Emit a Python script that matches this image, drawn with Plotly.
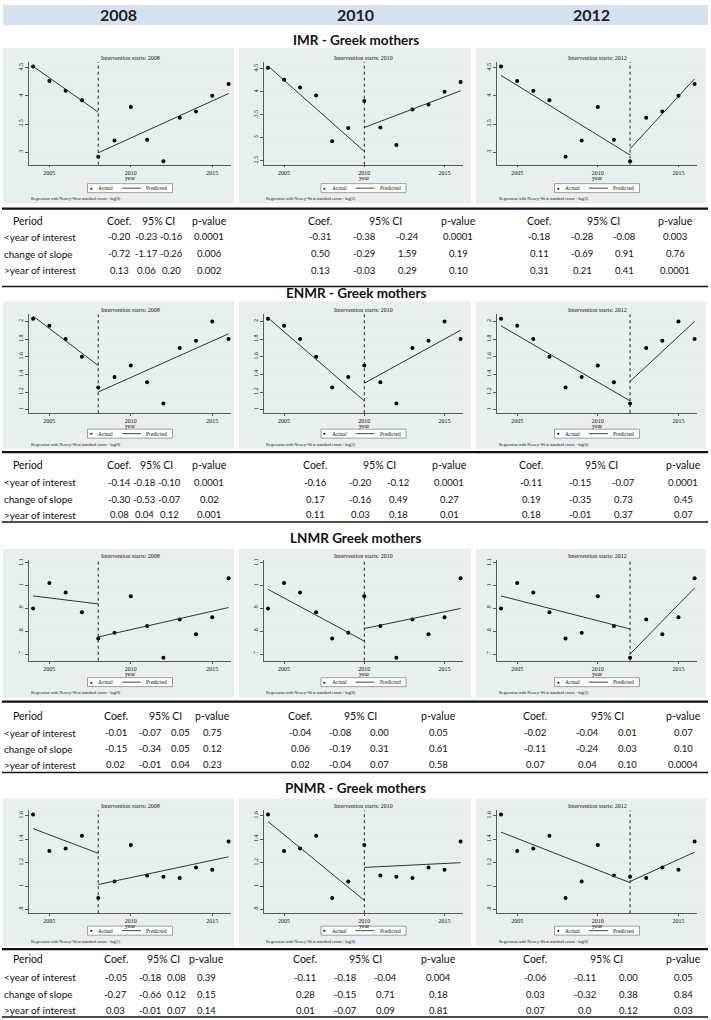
import plotly.graph_objects as go

W, H = 711, 1020
def fx(x): return x / W
def fy(y): return 1 - y / H

# ---------------- data ----------------
years = list(range(2004, 2017))
interventions = [2008, 2010, 2012]
col_headers = ["2008", "2010", "2012"]
section_titles = ["IMR - Greek mothers", "ENMR - Greek mothers", "LNMR Greek mothers", "PNMR - Greek mothers"]

imr_actual = [4.52, 4.26, 4.09, 3.92, 2.92, 3.21, 3.80, 3.22, 2.84, 3.61, 3.72, 4.00, 4.21]
enmr_actual = [2.03, 1.95, 1.80, 1.60, 1.25, 1.37, 1.50, 1.31, 1.07, 1.70, 1.78, 2.00, 1.80]
lnmr_actual = [0.900, 1.012, 0.970, 0.884, 0.768, 0.794, 0.954, 0.823, 0.684, 0.852, 0.787, 0.862, 1.033]
pnmr_actual = [1.61, 1.30, 1.32, 1.43, 0.90, 1.04, 1.35, 1.09, 1.08, 1.07, 1.16, 1.14, 1.38]

# predicted segments: [pre start, pre end (at intervention), post start (at intervention), post end]
imr_pred = [[4.52, 3.71, 2.99, 4.04], [4.56, 2.70, 3.22, 4.02], [4.36, 2.95, 3.06, 4.30]]
enmr_pred = [[2.06, 1.50, 1.20, 1.86], [2.04, 1.10, 1.30, 1.90], [1.95, 1.10, 1.32, 2.00]]
lnmr_pred = [[0.955, 0.920, 0.775, 0.904], [0.984, 0.757, 0.812, 0.900], [0.955, 0.810, 0.700, 0.990]]
pnmr_pred = [[1.49, 1.28, 1.014, 1.25], [1.55, 0.88, 1.16, 1.20], [1.46, 1.03, 1.04, 1.29]]

imr_ticks = [3, 3.5, 4, 4.5]
imr_ticks_2010 = [2.5, 3, 3.5, 4, 4.5]
enmr_ticks = [1, 1.2, 1.4, 1.6, 1.8, 2]
lnmr_ticks = [0.7, 0.8, 0.9, 1.0, 1.1]
pnmr_ticks = [0.8, 1.0, 1.2, 1.4, 1.6]

def stata_lbl(v):
    s = ("%g" % v)
    return s[1:] if s.startswith("0.") else s

imr_lags = ["lag(0)", "lag(2)", "lag(2)"]
enmr_lags = ["lag(0)", "lag(2)", "lag(0)"]
lnmr_lags = ["lag(0)", "lag(0)", "lag(2)"]
pnmr_lags = ["lag(1)", "lag(0)", "lag(0)"]

row_labels = ["&lt;year of interest", "change of slope", "&gt;year of interest"]
table_headers = ["Coef.", "95% CI", "p-value"]

imr_table = [
    [["-0.20", "-0.23", "-0.16", "0.0001"], ["-0.72", "-1.17", "-0.26", "0.006"], ["0.13", "0.06", "0.20", "0.002"]],
    [["-0.31", "-0.38", "-0.24", "0.0001"], ["0.50", "-0.29", "1.59", "0.19"], ["0.13", "-0.03", "0.29", "0.10"]],
    [["-0.18", "-0.28", "-0.08", "0.003"], ["0.11", "-0.69", "0.91", "0.76"], ["0.31", "0.21", "0.41", "0.0001"]],
]
enmr_table = [
    [["-0.14", "-0.18", "-0.10", "0.0001"], ["-0.30", "-0.53", "-0.07", "0.02"], ["0.08", "0.04", "0.12", "0.001"]],
    [["-0.16", "-0.20", "-0.12", "0.0001"], ["0.17", "-0.16", "0.49", "0.27"], ["0.11", "0.03", "0.18", "0.01"]],
    [["-0.11", "-0.15", "-0.07", "0.0001"], ["0.19", "-0.35", "0.73", "0.45"], ["0.18", "-0.01", "0.37", "0.07"]],
]
lnmr_table = [
    [["-0.01", "-0.07", "0.05", "0.75"], ["-0.15", "-0.34", "0.05", "0.12"], ["0.02", "-0.01", "0.04", "0.23"]],
    [["-0.04", "-0.08", "0.00", "0.05"], ["0.06", "-0.19", "0.31", "0.61"], ["0.02", "-0.04", "0.07", "0.58"]],
    [["-0.02", "-0.04", "0.01", "0.07"], ["-0.11", "-0.24", "0.03", "0.10"], ["0.07", "0.04", "0.10", "0.0004"]],
]
pnmr_table = [
    [["-0.05", "-0.18", "0.08", "0.39"], ["-0.27", "-0.66", "0.12", "0.15"], ["0.03", "-0.01", "0.07", "0.14"]],
    [["-0.11", "-0.18", "-0.04", "0.004"], ["0.28", "-0.15", "0.71", "0.18"], ["0.01", "-0.07", "0.09", "0.81"]],
    [["-0.06", "-0.11", "0.00", "0.05"], ["0.03", "-0.32", "0.38", "0.84"], ["0.07", "0.0", "0.12", "0.03"]],
]

actuals = [imr_actual, enmr_actual, lnmr_actual, pnmr_actual]
preds = [imr_pred, enmr_pred, lnmr_pred, pnmr_pred]
lags = [imr_lags, enmr_lags, lnmr_lags, pnmr_lags]
tables = [imr_table, enmr_table, lnmr_table, pnmr_table]
ticks = [[imr_ticks, imr_ticks_2010, imr_ticks], [enmr_ticks] * 3, [lnmr_ticks] * 3, [pnmr_ticks] * 3]

# ---------------- layout geometry (pixels) ----------------
yranges = [[[2.78, 4.60], [2.41, 4.65], [2.78, 4.60]],
           [[0.96, 2.08]] * 3, [[0.671, 1.113]] * 3, [[0.77, 1.645]] * 3]
panel_x = [(3, 234), (239, 471), (476, 706)]
plot_x = [(29, 231), (264, 463), (497, 697)]
sections = [
    dict(ty=38, pan=(46, 202), plot=(60, 163), tl=207, hd=219, rows=(235, 252, 269), bl=285,
         cols=[[119, 146, 171, 209], [320, 364, 407, 458], [539, 582, 624, 675]]),
    dict(ty=292, pan=(300, 448), plot=(313, 412), tl=451, hd=464, rows=(481, 498, 514), bl=521,
         cols=[[119, 144, 169, 209], [315, 360, 398, 449], [531, 580, 623, 683]]),
    dict(ty=537, pan=(548, 697), plot=(559, 660), tl=701, hd=715, rows=(732, 748, 764), bl=772,
         cols=[[116, 150, 180, 212], [300, 340, 380, 438], [535, 587, 627, 683]]),
    dict(ty=788, pan=(798, 946), plot=(810, 913), tl=949, hd=959, rows=(977, 994, 1010), bl=1017,
         cols=[[116, 150, 176, 206], [305, 345, 386, 438], [535, 585, 628, 683]]),
]

PANEL_BG = "#E8EFF1"
SERIF = "Liberation Serif"
SANS = "Lato"
DARK = "#111111"
TFS = 10     # table label font size
VFS = 9.5    # table value font size

fig = go.Figure()
shapes, anns = [], []
layout_axes = {}

def text(x, y, s, size, family=SANS, color=DARK, xanchor="center", bold=False, **kw):
    anns.append(dict(x=fx(x), y=fy(y), xref="paper", yref="paper", text=("<b>%s</b>" % s) if bold else s,
                     showarrow=False, xanchor=xanchor, yanchor="middle",
                     font=dict(family=family, size=size, color=color), **kw))

def hline(x0, x1, y, width, color="#111"):
    shapes.append(dict(type="line", xref="paper", yref="paper", x0=fx(x0), x1=fx(x1), y0=fy(y), y1=fy(y),
                       line=dict(color=color, width=width), layer="below"))

# header band
shapes.append(dict(type="rect", xref="paper", yref="paper", x0=fx(3), x1=fx(708), y0=fy(3), y1=fy(23),
                   fillcolor="#D6E1EF", line=dict(width=0), layer="below"))
for c in range(3):
    text((panel_x[c][0] + panel_x[c][1]) / 2, 13, col_headers[c], 16, bold=True, color="#222")

for r in range(4):
    S = sections[r]
    text(355.5, S["ty"], section_titles[r], 13.5, bold=True)
    for c in range(3):
        k = r * 3 + c + 1
        xa = "x" if k == 1 else "x%d" % k
        ya = "y" if k == 1 else "y%d" % k
        px0, px1 = panel_x[c]
        qx0, qx1 = plot_x[c]
        cx = (qx0 + qx1) / 2
        pt, pb = S["pan"]
        yt, yb = S["plot"]
        # panel background
        shapes.append(dict(type="rect", xref="paper", yref="paper", x0=fx(px0), x1=fx(px1), y0=fy(pb), y1=fy(pt),
                           fillcolor=PANEL_BG, line=dict(width=0), layer="below"))
        # traces
        iv = interventions[c]
        p = preds[r][c]
        fig.add_trace(go.Scatter(x=years, y=actuals[r], mode="markers", xaxis=xa, yaxis=ya,
                                 marker=dict(color="#000", size=4), showlegend=False, hoverinfo="skip"))
        fig.add_trace(go.Scatter(x=[years[0], iv], y=[p[0], p[1]], mode="lines", xaxis=xa, yaxis=ya,
                                 line=dict(color="#333", width=1), showlegend=False, hoverinfo="skip"))
        fig.add_trace(go.Scatter(x=[iv, years[-1]], y=[p[2], p[3]], mode="lines", xaxis=xa, yaxis=ya,
                                 line=dict(color="#333", width=1), showlegend=False, hoverinfo="skip"))
        # intervention line
        shapes.append(dict(type="line", xref=xa, yref=ya + " domain", x0=iv, x1=iv, y0=0, y1=1,
                           line=dict(color="#222", width=1, dash="dot"), layer="above"))
        tv = ticks[r][c]
        layout_axes["xaxis" + ("" if k == 1 else str(k))] = dict(
            domain=[fx(qx0), fx(qx1)], anchor=ya, range=[2003.75, 2016.15],
            tickvals=[2005, 2010, 2015], ticktext=["2005", "2010", "2015"],
            showgrid=False, zeroline=False, showline=True, linecolor="#333", linewidth=0.8,
            ticks="outside", ticklen=2, tickwidth=0.8, tickcolor="#333",
            tickfont=dict(family=SERIF, size=6, color=DARK), fixedrange=True)
        layout_axes["yaxis" + ("" if k == 1 else str(k))] = dict(
            domain=[fy(yb), fy(yt)], anchor=xa, range=yranges[r][c],
            tickvals=tv, ticktext=[stata_lbl(v) for v in tv], tickangle=-90,
            showgrid=True, gridcolor="#E3ECEF", gridwidth=1, zeroline=False,
            showline=True, linecolor="#333", linewidth=0.8,
            ticks="outside", ticklen=3, tickwidth=0.8, tickcolor="#333",
            tickfont=dict(family=SERIF, size=6, color=DARK), fixedrange=True)
        # axis title and panel title
        text(cx, yb + 13, "year", 6, family=SERIF)
        text(cx, yt - 4, "Intervention starts: %d" % iv, 6, family=SERIF)
        # legend box
        shapes.append(dict(type="rect", xref="paper", yref="paper", x0=fx(cx - 42.5), x1=fx(cx + 42.5),
                           y0=fy(pb - 11), y1=fy(pb - 20), fillcolor="white",
                           line=dict(color="#666", width=0.6), layer="below"))
        text(cx - 39, pb - 15.5, "\u25CF", 4.5, family=SERIF, color="#000")
        text(cx - 34, pb - 15.5, "Actual", 5.5, family=SERIF, xanchor="left")
        hline(cx - 8, cx + 11, pb - 15.5, 0.9, "#333")
        text(cx + 14, pb - 15.5, "Predicted", 5.5, family=SERIF, xanchor="left")
        # note
        text(qx0, pb - 5, "Regression with Newey-West standard errors - %s" % lags[r][c], 4.2, family=SERIF,
             xanchor="left")
        # table
        cols = S["cols"][c]
        text(cols[0], S["hd"], table_headers[0], TFS + 0.5)
        text((cols[1] + cols[2]) / 2, S["hd"], table_headers[1], TFS + 0.5)
        text(cols[3], S["hd"], table_headers[2], TFS + 0.5)
        for i in range(3):
            vals = tables[r][c][i]
            for j in range(4):
                text(cols[j], S["rows"][i], vals[j], VFS)
    # table row labels and lines
    text(28, S["hd"], "Period", TFS + 0.5)
    for i in range(3):
        text(2, S["rows"][i], row_labels[i], TFS, xanchor="left")
    hline(2, 708, S["tl"], 2.2)
    hline(2, 708, S["bl"], 1.5)

fig.update_layout(width=W, height=H, margin=dict(l=0, r=0, t=0, b=0),
                  paper_bgcolor="white", plot_bgcolor="white",
                  shapes=shapes, annotations=anns, showlegend=False, **layout_axes)
fig.write_html("out.html", config={"displayModeBar": False, "staticPlot": True},
               post_script="document.body.style.margin='0px';document.body.style.overflow='hidden';")
